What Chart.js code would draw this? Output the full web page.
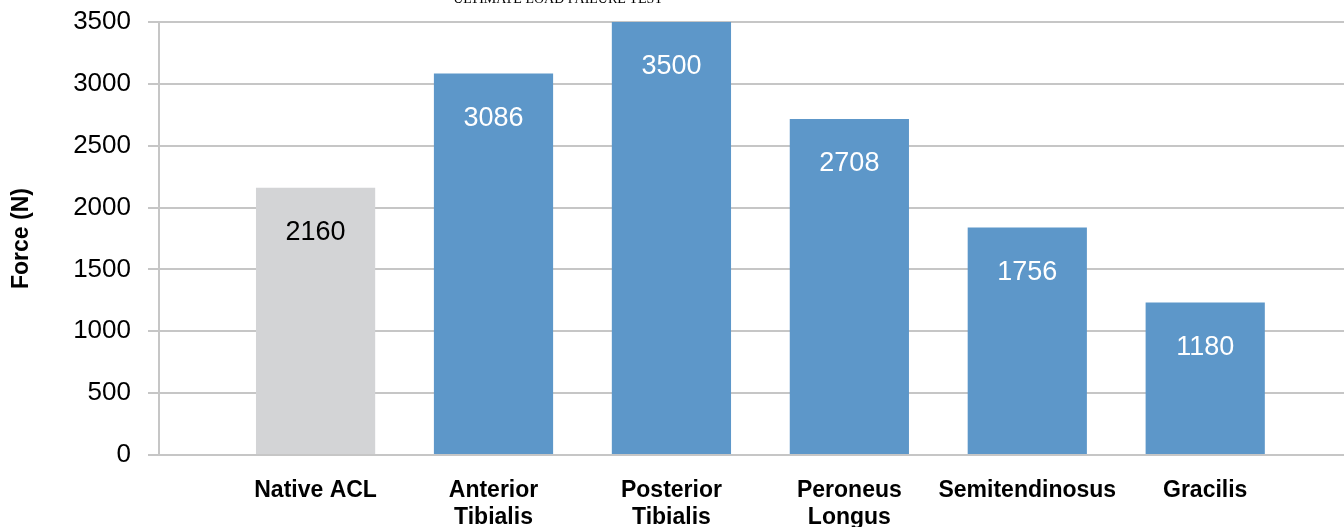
<!DOCTYPE html>
<html>
<head>
<meta charset="utf-8">
<script src="https://cdn.jsdelivr.net/npm/chart.js@4"></script>
<style>
  html, body { margin: 0; padding: 0; background: #fff; }
  #wrap { width: 1344px; height: 527px; }
</style>
</head>
<body>
<div id="wrap"><canvas id="loadChart"></canvas></div>
<script>
// Dữ liệu
const categories = ['Native ACL', ['Anterior', 'Tibialis'], ['Posterior', 'Tibialis'], ['Peroneus', 'Longus'], 'Semitendinosus', 'Gracilis'];
const barHeights = [2160, 3084, 3500, 2716, 1838, 1233];   // chiều cao cột đo trên hình
const printedLabels = ['2160', '3086', '3500', '2708', '1756', '1180']; // số in trên cột
const barColors = ['#d3d4d6', '#5d97c9', '#5d97c9', '#5d97c9', '#5d97c9', '#5d97c9'];
const labelColors = ['#000000', '#ffffff', '#ffffff', '#ffffff', '#ffffff', '#ffffff'];
const yTicks = [0, 500, 1000, 1500, 2000, 2500, 3000, 3500];
const chartTitle = 'ULTIMATE LOAD FAILURE TEST';
const yTitle = 'Force (N)';

const gridColor = '#c6c6c6';

// Vẽ số lên từng cột
const barLabelPlugin = {
    id: 'barLabels',
    afterDatasetsDraw(chart) {
        const ctx = chart.ctx;
        const meta = chart.getDatasetMeta(0);
        ctx.save();
        ctx.font = '27px "Liberation Sans", Arial, sans-serif';
        ctx.textAlign = 'center';
        ctx.textBaseline = 'middle';
        meta.data.forEach((bar, i) => {
            ctx.fillStyle = labelColors[i];
            ctx.fillText(printedLabels[i], bar.x, bar.y + 45);
        });
        ctx.restore();
    }
};

// Tiêu đề bị cắt ở mép trên
const topTitlePlugin = {
    id: 'topTitle',
    afterDraw(chart) {
        const ctx = chart.ctx;
        ctx.save();
        ctx.font = '14px "Liberation Serif", "Times New Roman", serif';
        ctx.fillStyle = '#000';
        ctx.textAlign = 'center';
        ctx.textBaseline = 'alphabetic';
        ctx.fillText(chartTitle, chart.chartArea.left + 399, 3);
        ctx.restore();
    }
};

new Chart(document.getElementById('loadChart'), {
    type: 'bar',
    data: {
        datasets: [{
            data: barHeights.map((v, i) => ({ x: i, y: v })),
            backgroundColor: barColors,
            borderWidth: 0,
            categoryPercentage: 1,
            barPercentage: 0.67
        }]
    },
    options: {
        responsive: true,
        maintainAspectRatio: false,
        animation: false,
        layout: { padding: { top: 22, right: 0, left: 0, bottom: 0 } },
        plugins: {
            legend: { display: false },
            tooltip: { enabled: false },
            title: { display: false }
        },
        scales: {
            x: {
                type: 'linear',
                offset: false,
                min: -0.88,
                max: 5.78,
                afterBuildTicks: axis => { axis.ticks = categories.map((c, i) => ({ value: i })); },
                afterFit: axis => { axis.height = 72; axis.paddingLeft = 0; axis.paddingRight = 0; },
                grid: { display: false, drawTicks: false, offset: false },
                border: { display: false },
                ticks: {
                    autoSkip: false,
                    maxRotation: 0,
                    padding: 22,
                    color: '#000',
                    font: { family: '"Liberation Sans", Arial, sans-serif', size: 23, weight: 'bold', lineHeight: 1.18 },
                    callback: v => categories[v]
                }
            },
            y: {
                min: 0,
                max: 3500,
                afterBuildTicks: axis => { axis.ticks = yTicks.map(v => ({ value: v })); },
                afterFit: axis => { axis.width = 159; axis.paddingTop = 0; axis.paddingBottom = 0; },
                grid: { color: gridColor, lineWidth: 2, tickLength: 11, drawTicks: true },
                border: { display: true, color: gridColor, width: 2 },
                ticks: {
                    padding: 17,
                    color: '#000',
                    font: { family: '"Liberation Sans", Arial, sans-serif', size: 26 },
                    callback: v => String(v)
                },
                title: {
                    display: true,
                    text: yTitle,
                    color: '#000',
                    padding: { top: 8, bottom: 0 },
                    font: { family: '"Liberation Sans", Arial, sans-serif', size: 23, weight: 'bold' }
                }
            }
        }
    },
    plugins: [barLabelPlugin, topTitlePlugin]
});
</script>
</body>
</html>
